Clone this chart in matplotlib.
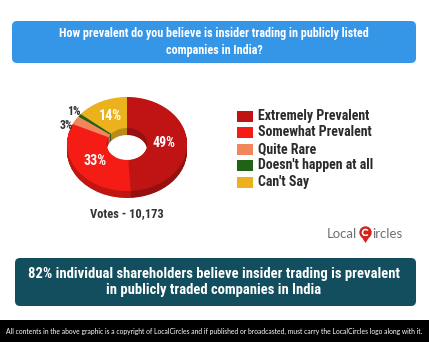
import numpy as np
import matplotlib
matplotlib.use("Agg")
import matplotlib.pyplot as plt
from matplotlib.patches import FancyBboxPatch, Rectangle, Circle, Wedge, Polygon
from matplotlib.colors import to_rgb

plt.rcParams['font.family'] = ['Roboto Condensed', 'DejaVu Sans']

# data
categories = ['Extremely Prevalent', 'Somewhat Prevalent', 'Quite Rare',
              "Doesn't happen at all", "Can't Say"]
values = [49, 33, 3, 1, 14]
colors = ['#C01414', '#F51C16', '#F0875A', '#1E6414', '#ECB21E']
pct_labels = ['49%', '33%', '3%', '1%', '14%']
title = ('How prevalent do you believe is insider trading in publicly listed\n'
         'companies in India?')
votes = 'Votes - 10,173'
finding = ('82% individual shareholders believe insider trading is prevalent\n'
           'in publicly traded companies in India')
footer = ('All contents in the above graphic is a copyright of LocalCircles and if '
          'published or broadcasted, must carry the LocalCircles logo along with it.')

W, H = 429, 342
fig = plt.figure(figsize=(W / 100, H / 100), dpi=100)
ax = fig.add_axes([0, 0, 1, 1])
ax.set_xlim(0, W)
ax.set_ylim(H, 0)
ax.axis('off')

# question box
ax.add_patch(FancyBboxPatch((12, 21), 404, 42, boxstyle='round,pad=0,rounding_size=5',
                            fc='#3596E8', ec='none'))
ax.text(214, 42, title, ha='center', va='center', color='white', fontsize=8.75,
        fontweight='bold', linespacing=1.35)

# finding box
ax.add_patch(FancyBboxPatch((15, 258), 401, 48, boxstyle='round,pad=0,rounding_size=5',
                            fc='#124E5E', ec='none'))
ax.text(214, 282, finding, ha='center', va='center', color='white', fontsize=10.5,
        fontweight='bold', linespacing=1.25)

# footer
ax.add_patch(Rectangle((0, 320), W, 22, fc='black', ec='none'))
ax.text(214, 331, footer, ha='center', va='center', color='white', fontsize=4.9,
        family=['Lato', 'DejaVu Sans'])

# votes
ax.text(127, 214, votes, ha='center', va='center', color='#333333', fontsize=9,
        fontweight='bold')

# legend
for i, (cat, c) in enumerate(zip(categories, colors)):
    y = 116 + i * 16.5
    ax.add_patch(Rectangle((237, y - 5.5), 16, 11, fc=c, ec='none'))
    ax.text(258, y, cat, ha='left', va='center', color='#2b2b2b', fontsize=10,
            fontweight='bold')

# logo
ax.text(327, 234, 'Local', ha='left', va='center', color='#707070', fontsize=9.5,
        family=['Lato', 'DejaVu Sans'])
ax.add_patch(Circle((365.5, 232.5), 6.2, fc='#D2231E', ec='none'))
ax.add_patch(Wedge((365.5, 232.5), 3.8, 40, 320, width=1.6, fc='white', ec='none'))
ax.add_patch(Polygon([(361, 236), (370, 236), (365.5, 243)], fc='#D2231E', ec='none'))
ax.text(372, 234, 'ircles', ha='left', va='center', color='#707070', fontsize=9.5,
        family=['Lato', 'DejaVu Sans'])

# donut (pseudo 3D)
cx, cy, rx, ry = 127, 144, 60, 47
span = 1.6
pax = fig.add_axes([(cx - span * rx) / W, 1 - (cy + span * ry) / H,
                    2 * span * rx / W, 2 * span * ry / H])
depth = 7 / ry
n_layers = 14
side_colors = [tuple(np.array(to_rgb(c)) * 0.78) for c in colors]
for k in range(n_layers, 0, -1):
    off = depth * k / n_layers
    pax.pie(values, colors=side_colors, startangle=90, counterclock=False,
            center=(0, -off), radius=1, wedgeprops=dict(width=0.66, linewidth=0))
pax.pie(values, colors=colors, startangle=90, counterclock=False,
        center=(0, 0), radius=1, wedgeprops=dict(width=0.66, linewidth=0))
pax.set_aspect('auto')
pax.set_xlim(-span, span)
pax.set_ylim(-span, span)
pax.axis('off')

dists = [0.62, 0.65, 1.05, 1.12, 0.66]
aligns = [('center', 'center'), ('center', 'center'), ('right', 'top'),
          ('center', 'center'), ('center', 'center')]
cum = np.cumsum([0] + values)
for i, lab in enumerate(pct_labels):
    mid = np.deg2rad(90 - (cum[i] + values[i] / 2) * 3.6)
    x, y = dists[i] * np.cos(mid), dists[i] * np.sin(mid)
    inside = dists[i] < 1
    pax.text(x, y, lab, ha=aligns[i][0], va=aligns[i][1],
             color='white' if inside else '#333333', fontsize=10 if inside else 8.5,
             fontweight='bold')

fig.savefig('out.png', dpi=100)
